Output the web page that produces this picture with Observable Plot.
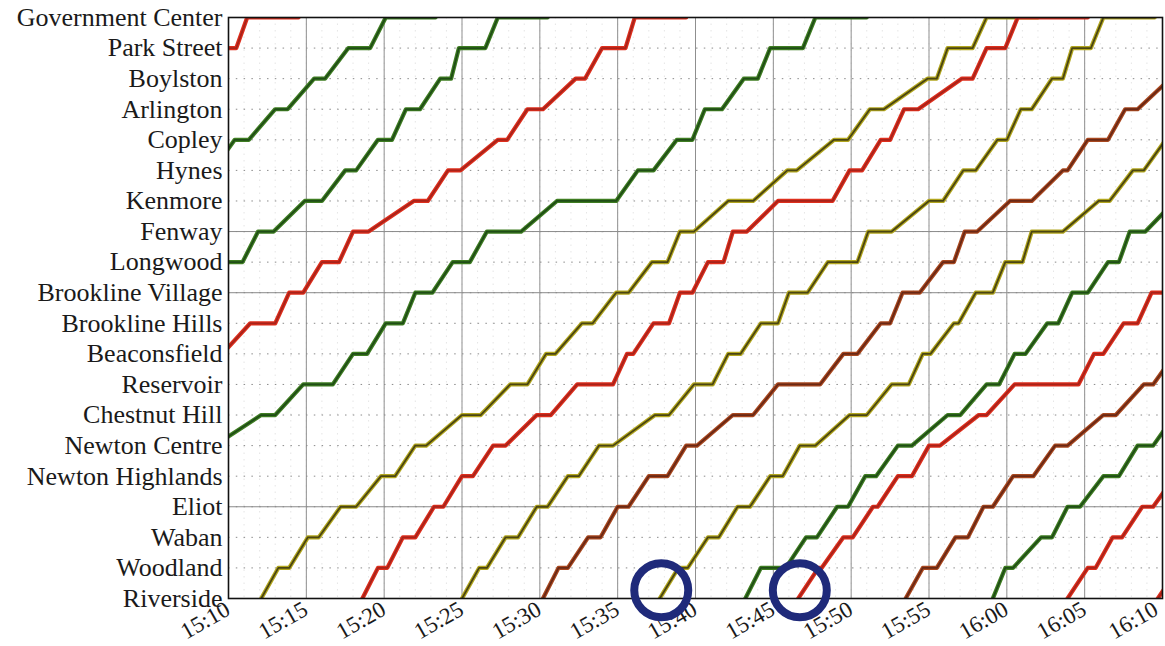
<!DOCTYPE html>
<html><head><meta charset="utf-8">
<script src="https://cdn.jsdelivr.net/npm/d3@7"></script>
<script src="https://cdn.jsdelivr.net/npm/@observablehq/plot@0.6"></script>
<style>
html,body{margin:0;padding:0;background:#fff;}
#chart svg{display:block;}
</style></head><body><div id="chart"></div>
<script>
// Stations, bottom (index 0) to top (index 19)
const stations = ["Riverside","Woodland","Waban","Eliot","Newton Highlands","Newton Centre",
  "Chestnut Hill","Reservoir","Beaconsfield","Brookline Hills","Brookline Village","Longwood",
  "Fenway","Kenmore","Hynes","Copley","Arlington","Boylston","Park Street","Government Center"];
// x ticks: minutes after 15:00
const tickMinutes = [10,15,20,25,30,35,40,45,50,55,60,65,70];
const tickLabels = ["15:10","15:15","15:20","15:25","15:30","15:35","15:40","15:45","15:50","15:55","16:00","16:05","16:10"];
const solidStations = ["Eliot","Brookline Village","Fenway"];

// Each train: [station index, arrival, departure] in minutes after 15:00
const trainA = [[18,9.0,10.5],[19,11.2,14.5]];
const trainB = [[14,8.5,9.0],[15,10.4,11.3],[16,13.0,13.8],[17,15.5,16.2],[18,17.7,19.1],[19,20.1,23.3]];
const trainC = [[11,9.0,10.9],[12,11.9,12.9],[13,14.9,16.0],[14,17.5,18.2],[15,19.6,20.5],[16,21.4,22.3],[17,23.6,24.3],[18,24.8,26.5],[19,27.3,30.5]];
const trainD = [[8,9.0,9.6],[9,11.4,13.0],[10,13.9,14.8],[11,16.0,17.1],[12,18.0,19.0],[13,21.9,22.8],[14,24.1,24.9],[15,27.3,27.9],[16,29.2,30.2],[17,32.3,32.9],[18,34.0,35.5],[19,36.1,39.4]];
const trainE = [[5,8.5,9.1],[6,12.1,13.0],[7,14.8,16.7],[8,18.0,18.9],[9,20.1,21.2],[10,22.0,23.1],[11,24.4,25.5],[12,26.6,28.8],[13,31.1,34.9],[14,36.3,37.3],[15,38.8,39.8],[16,40.6,41.7],[17,43.1,44.0],[18,44.8,46.9],[19,47.7,51.0]];
const trainF = [[0,12.1,12.1],[1,13.2,13.9],[2,15.1,15.8],[3,17.2,18.2],[4,19.8,20.7],[5,22.0,22.7],[6,25.0,26.2],[7,28.1,29.2],[8,30.4,31.0],[9,32.7,33.4],[10,34.9,35.7],[11,37.2,38.2],[12,39.0,39.9],[13,42.1,43.7],[14,45.9,46.5],[15,48.9,49.8],[16,51.2,52.1],[17,54.9,55.5],[18,56.2,57.8],[19,58.7,62.0]];
const trainG = [[0,18.6,18.6],[1,19.6,20.2],[2,21.2,22.0],[3,23.2,23.8],[4,25.0,25.7],[5,27.0,27.8],[6,29.8,30.7],[7,32.4,34.7],[8,35.6,36.0],[9,37.3,38.3],[10,39.0,39.8],[11,40.8,41.8],[12,42.4,43.3],[13,45.3,48.8],[14,49.9,50.7],[15,51.9,52.5],[16,53.4,54.3],[17,57.1,57.8],[18,58.7,59.9],[19,60.7,65.2]];
const trainH = [[0,25.0,25.0],[1,26.1,26.6],[2,27.8,28.6],[3,29.8,30.5],[4,31.8,32.5],[5,33.8,34.7],[6,37.4,38.3],[7,39.9,41.1],[8,42.1,42.9],[9,44.2,45.3],[10,46.0,47.2],[11,48.5,50.4],[12,51.1,52.6],[13,55.0,55.9],[14,57.2,58.0],[15,59.4,60.0],[16,60.9,61.6],[17,62.9,63.6],[18,64.2,65.4],[19,66.2,69.5]];
const trainI = [[0,30.2,30.2],[1,31.2,31.8],[2,33.1,33.9],[3,35.0,35.7],[4,37.0,38.2],[5,39.4,40.1],[6,42.4,43.7],[7,45.3,48.0],[8,49.5,50.4],[9,51.9,52.5],[10,53.3,54.4],[11,55.9,56.6],[12,57.3,58.1],[13,60.2,61.6],[14,63.6,63.9],[15,65.2,66.5],[16,67.6,68.4],[17,70.5,71.0]];
const trainJ = [[0,37.7,37.7],[1,38.9,39.5],[2,40.8,41.5],[3,42.7,43.5],[4,44.8,45.6],[5,46.7,47.7],[6,49.9,51.0],[7,52.6,53.7],[8,54.6,55.1],[9,56.6,56.9],[10,58.0,59.1],[11,59.9,61.0],[12,61.6,63.6],[13,65.9,66.6],[14,68.1,68.8],[15,70.2,71.0]];
const trainK = [[0,43.2,43.2],[1,44.2,45.8],[2,47.1,47.8],[3,49.1,49.8],[4,50.9,51.6],[5,53.0,53.9],[6,56.2,57.0],[7,58.7,59.5],[8,60.5,61.2],[9,62.6,63.3],[10,64.2,65.2],[11,66.5,67.2],[12,67.9,68.9],[13,70.8,71.5]];
const trainL = [[0,46.6,46.6],[1,47.9,48.1],[2,49.5,50.1],[3,51.4,51.7],[4,53.0,53.9],[5,55.0,55.7],[6,58.2,58.7],[7,60.5,64.6],[8,65.6,66.2],[9,67.5,68.4],[10,69.3,70.5]];
const trainM = [[0,53.5,53.5],[1,54.6,55.5],[2,56.7,57.5],[3,58.5,59.1],[4,60.4,61.7],[5,63.1,63.9],[6,66.2,67.0],[7,68.8,69.4],[8,70.8,71.5]];
const trainN = [[0,59.1,59.1],[1,59.9,60.4],[2,62.2,62.9],[3,63.9,64.7],[4,66.2,67.2],[5,68.4,69.4],[6,70.8,71.5]];
const trainO = [[0,63.9,63.9],[1,65.2,65.7],[2,66.8,67.4],[3,68.7,69.4],[4,70.8,71.5]];
const trainP = [[0,69.7,69.7],[1,71.0,71.5]];

const trainList = [trainA,trainB,trainC,trainD,trainE,trainF,trainG,trainH,trainI,trainJ,trainK,trainL,trainM,trainN,trainO,trainP];
const trainColor = ["red","green","green","red","green","olive","red","olive","brown","olive","green","red","brown","green","red","red"];

// highlighted departures (blue circles)
const circleMinutes = [37.8, 46.7];
const circleStation = [0.27, 0.27];

const palette = {
  green: {outer:"#3f7d22", inner:"#1f4d16"},
  red:   {outer:"#de2f1d", inner:"#a8231a"},
  olive: {outer:"#b2a61e", inner:"#4a4512"},
  brown: {outer:"#a9481f", inner:"#6a2815"}
};

function toPoints(stops){
  const pts = [];
  for (const [s,a,d] of stops){
    pts.push({t:a, s});
    if (d !== a) pts.push({t:d, s});
  }
  return pts;
}

const trainMarks = trainList.flatMap((tr, i) => {
  const pts = toPoints(tr);
  const c = palette[trainColor[i]];
  return [
    Plot.line(pts, {x:"t", y:"s", stroke:c.outer, strokeWidth:4.2, clip:true, strokeLinejoin:"round"}),
    Plot.line(pts, {x:"t", y:"s", stroke:c.inner, strokeWidth:1.8, clip:true, strokeLinejoin:"round"})
  ];
});

const minuteGrid = d3.range(10, 71, 1);
const stationIdx = d3.range(stations.length);
const circles = circleMinutes.map((t,i) => ({t, s: circleStation[i]}));
const tickData = tickMinutes.map((m, i) => ({m, label: tickLabels[i]}));
const lastTick = tickData.slice(-1);
const otherTicks = tickData.slice(0, -1);
const tickTextOpts = {x: "m", y: () => 0, text: "label", rotate: -30, textAnchor: "end", lineAnchor: "top", dy: 1, fontSize: 23, fill: "#1a1a1a"};

const chart = Plot.plot({
  width: 1165,
  height: 646,
  marginLeft: 228,
  marginRight: 3,
  marginTop: 17,
  marginBottom: 48,
  style: {fontFamily: "'Liberation Serif', 'DejaVu Serif', serif", fontSize: "26px", color: "#1a1a1a", background: "white"},
  x: {domain: [10, 70], axis: null},
  y: {domain: [0, 19], ticks: stationIdx, tickFormat: i => stations[i], tickSize: 0, tickPadding: 6, label: null},
  marks: [
    Plot.ruleX(minuteGrid, {stroke:"#d0d0d0", strokeWidth:0.8, strokeDasharray:"1.5,5", strokeOpacity:0.7}),
    Plot.ruleY(stationIdx, {stroke:"#8a8a8a", strokeWidth:1, strokeDasharray:"1.5,6.3"}),
    Plot.ruleY(solidStations.map(n => stations.indexOf(n)), {stroke:"#8a8a8a", strokeWidth:1}),
    Plot.ruleX(tickMinutes, {stroke:"#8f8f8f", strokeWidth:1}),
    ...trainMarks,
    Plot.frame({stroke:"#111", strokeWidth:1.6}),
    Plot.text(otherTicks, {...tickTextOpts, dx: -5}),
    Plot.text(lastTick, {...tickTextOpts, dx: -11}),
    Plot.dot(circles, {x:"t", y:"s", r:27, stroke:"#1f2a7a", strokeWidth:8, fill:"none"})
  ]
});
document.getElementById("chart").appendChild(chart);
</script>
</body></html>
